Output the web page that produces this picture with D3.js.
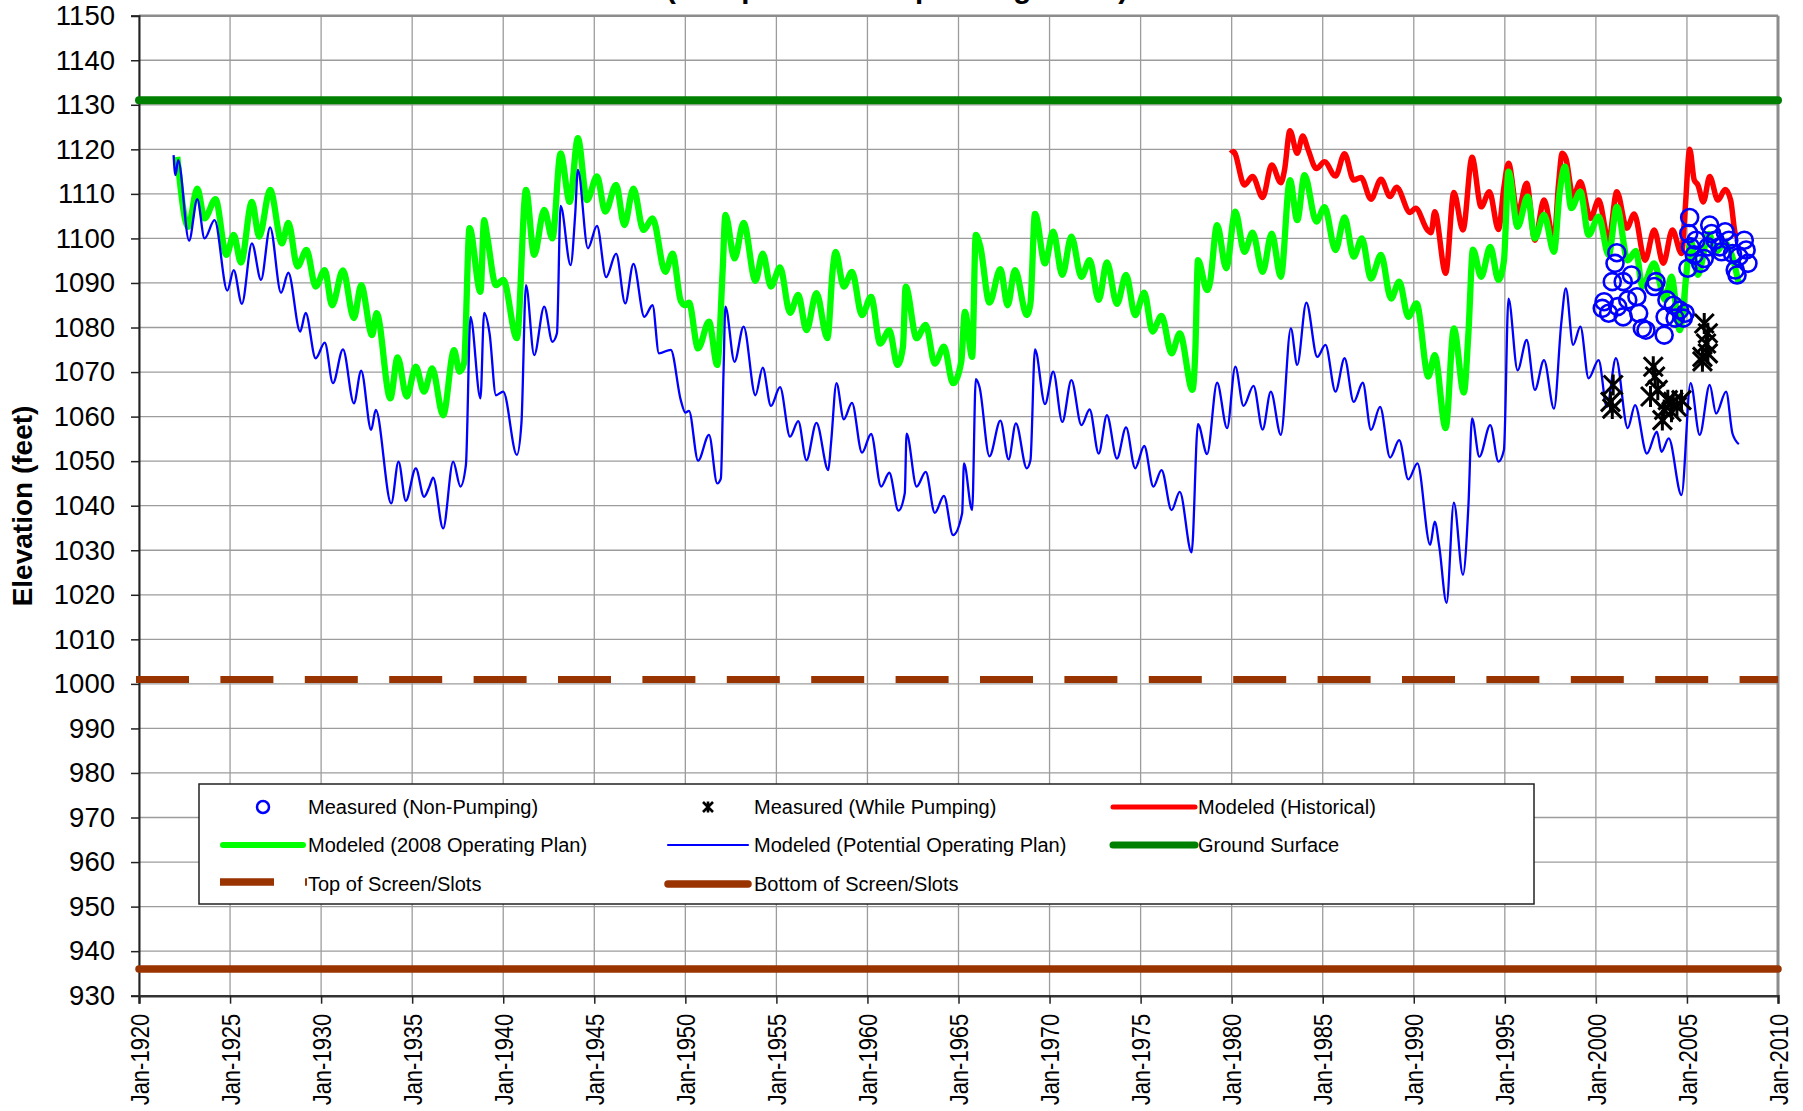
<!DOCTYPE html>
<html>
<head>
<meta charset="utf-8">
<script src="https://cdnjs.cloudflare.com/ajax/libs/d3/7.8.5/d3.min.js"></script>
<style>
  body { margin: 0; background: #fff; }
  text { font-family: "Liberation Sans", Arial, sans-serif; fill: #000; }
</style>
</head>
<body>
<svg id="chart" width="1803" height="1111"></svg>
<script>
// ---- data (decimal year, elevation in feet) ----
const yearTicks = d3.range(1920, 2011, 5);
const elevTicks = d3.range(930, 1151, 10);
const groundSurface = 1131;
const topOfScreen = 1001;
const bottomOfScreen = 936;

const modeledHistorical = [
  [1979.95,1119.1],[1980.1,1119.5],[1980.7,1112.0],[1981.15,1113.9],[1981.7,1109.2],[1982.2,1116.5],
  [1982.7,1112.5],[1982.9,1115.3],[1983.2,1124.2],[1983.6,1119.1],[1983.9,1123.0],[1984.2,1119.9],
  [1984.65,1115.7],[1985.1,1117.2],[1985.7,1114.0],[1986.2,1119.0],[1986.7,1113.1],[1987.1,1113.7],
  [1987.65,1108.8],[1988.2,1113.3],[1988.7,1109.4],[1989.05,1111.5],[1989.8,1105.8],[1990.1,1106.8],
  [1990.75,1101.9],[1990.95,1101.3],[1991.15,1106.0],[1991.75,1092.2],[1992.2,1110.3],[1992.7,1101.9],
  [1993.2,1118.2],[1993.7,1107.1],[1994.15,1110.5],[1994.65,1102.0],[1994.95,1111.5],[1995.2,1116.9],
  [1995.7,1105.6],[1996.2,1112.4],[1996.65,1099.6],[1997.15,1108.6],[1997.7,1099.6],[1997.95,1112.3],
  [1998.15,1119.1],[1998.35,1118.0],[1998.75,1109.4],[1999.15,1112.7],[1999.7,1104.5],[2000.15,1108.6],
  [2000.7,1099.6],[2001.15,1110.5],[2001.7,1102.3],[2002.1,1105.5],[2002.7,1095.1],[2003.2,1101.9],
  [2003.7,1094.4],[2004.2,1101.9],[2004.7,1096.6],[2004.9,1106.4],[2005.15,1120.0],[2005.4,1113.1],
  [2005.6,1112.0],[2005.9,1108.2],[2006.25,1113.9],[2006.7,1108.6],[2007.1,1111.0],[2007.4,1108.6],
  [2007.65,1101.1],[2007.75,1100.4]
];

const modeled2008Plan = [
  [1922.1,1118.3],[1922.7,1102.6],[1923.2,1111.2],[1923.6,1104.5],[1924.2,1108.8],[1924.8,1096.3],
  [1925.2,1100.8],[1925.6,1094.6],[1926.2,1108.2],[1926.6,1100.4],[1927.2,1110.9],[1927.85,1098.9],
  [1928.2,1103.5],[1928.7,1093.7],[1929.2,1097.4],[1929.7,1089.2],[1930.2,1092.9],[1930.6,1085.0],
  [1931.2,1092.8],[1931.8,1082.1],[1932.2,1089.5],[1932.8,1078.3],[1933.05,1083.2],[1933.8,1064.1],
  [1934.2,1073.3],[1934.7,1064.5],[1935.2,1071.2],[1935.65,1065.6],[1936.1,1070.8],[1936.7,1060.3],
  [1937.3,1074.9],[1937.6,1070.1],[1937.85,1072.0],[1938.15,1102.3],[1938.75,1088.0],[1938.95,1104.1],
  [1939.1,1101.0],[1939.6,1089.5],[1940.0,1090.7],[1940.75,1077.6],[1941.25,1110.9],[1941.7,1096.3],
  [1942.25,1106.4],[1942.7,1100.0],[1943.15,1119.1],[1943.65,1108.2],[1944.1,1122.5],[1944.6,1108.6],
  [1945.15,1113.9],[1945.6,1106.0],[1946.2,1112.0],[1946.65,1103.0],[1947.15,1111.2],[1947.7,1101.9],
  [1948.2,1104.5],[1948.9,1092.5],[1949.3,1096.6],[1949.75,1086.0],[1950.0,1085.0],[1950.2,1085.6],
  [1950.7,1075.3],[1951.3,1081.3],[1951.75,1071.6],[1952.05,1092.9],[1952.2,1105.3],[1952.7,1095.5],
  [1953.2,1103.5],[1953.85,1090.5],[1954.25,1096.6],[1954.7,1089.2],[1955.2,1093.5],[1955.75,1083.3],
  [1956.2,1087.3],[1956.65,1079.4],[1957.2,1087.7],[1957.8,1077.6],[1958.1,1093.3],[1958.25,1097.0],
  [1958.7,1089.2],[1959.15,1092.5],[1959.7,1082.8],[1960.2,1086.9],[1960.7,1076.4],[1961.2,1079.4],
  [1961.65,1071.6],[1961.95,1075.7],[1962.1,1089.2],[1962.7,1077.6],[1963.2,1080.6],[1963.7,1071.9],
  [1964.2,1075.7],[1964.7,1067.5],[1965.15,1072.3],[1965.35,1083.5],[1965.75,1073.4],[1965.95,1100.8],
  [1966.2,1098.1],[1966.7,1085.6],[1967.3,1093.1],[1967.7,1085.0],[1968.1,1092.9],[1968.75,1082.8],
  [1968.95,1085.4],[1969.2,1105.5],[1969.75,1094.4],[1970.2,1101.5],[1970.7,1091.8],[1971.2,1100.4],
  [1971.75,1091.4],[1972.2,1095.1],[1972.7,1086.2],[1973.15,1094.6],[1973.7,1085.3],[1974.2,1091.8],
  [1974.7,1082.8],[1975.2,1087.8],[1975.65,1079.1],[1976.15,1082.6],[1976.7,1074.2],[1977.15,1078.7],
  [1977.85,1066.0],[1978.0,1074.2],[1978.15,1095.1],[1978.65,1088.4],[1978.8,1089.9],[1979.2,1103.0],
  [1979.7,1093.3],[1980.2,1106.0],[1980.7,1097.0],[1981.15,1101.3],[1981.7,1092.5],[1982.2,1101.1],
  [1982.7,1091.4],[1983.2,1113.1],[1983.6,1104.1],[1984.0,1114.2],[1984.65,1103.8],[1985.1,1107.0],
  [1985.7,1097.4],[1986.2,1104.7],[1986.7,1095.9],[1987.15,1100.0],[1987.65,1091.0],[1988.2,1096.3],
  [1988.75,1086.5],[1989.2,1090.3],[1989.7,1082.4],[1990.15,1085.4],[1990.8,1069.0],[1991.15,1073.8],
  [1991.75,1057.4],[1992.2,1079.8],[1992.75,1065.4],[1993.0,1078.7],[1993.25,1097.5],[1993.7,1091.4],
  [1994.2,1098.1],[1994.65,1090.7],[1994.95,1095.0],[1995.2,1115.0],[1995.7,1102.6],[1996.25,1109.4],
  [1996.65,1100.0],[1997.15,1105.3],[1997.7,1097.0],[1998.0,1110.0],[1998.3,1116.1],[1998.65,1106.8],
  [1999.15,1110.5],[1999.6,1100.8],[2000.15,1104.9],[2000.7,1096.3],[2001.15,1107.1],[2001.75,1095.1],
  [2002.2,1097.2],[2002.55,1089.2],[2003.2,1094.4],[2003.8,1086.2],[2004.15,1091.4],[2004.6,1079.4],
  [2005.05,1095.1],[2005.2,1099.6],[2005.6,1091.8],[2006.2,1101.0],[2006.6,1097.0],[2007.1,1099.0],
  [2007.85,1089.9]
];

const modeledPotentialPlan = [
  [1921.9,1118.7],[1922.0,1114.2],[1922.15,1117.6],[1922.75,1099.5],[1923.2,1108.8],[1923.6,1100.0],
  [1924.15,1104.1],[1924.85,1088.3],[1925.2,1092.9],[1925.65,1085.3],[1926.2,1098.9],[1926.7,1090.7],
  [1927.2,1102.5],[1927.8,1087.8],[1928.2,1092.3],[1928.85,1079.1],[1929.15,1083.3],[1929.7,1073.1],
  [1930.2,1076.6],[1930.65,1067.5],[1931.2,1075.1],[1931.8,1063.0],[1932.2,1070.3],[1932.75,1057.0],
  [1933.0,1061.5],[1933.85,1040.5],[1934.25,1049.9],[1934.65,1041.1],[1935.2,1048.4],[1935.65,1042.0],
  [1935.95,1044.3],[1936.15,1046.3],[1936.7,1034.9],[1937.25,1049.9],[1937.65,1044.3],[1937.95,1049.1],
  [1938.2,1082.4],[1938.75,1064.1],[1938.95,1083.3],[1939.25,1078.7],[1939.6,1064.8],[1940.0,1065.6],
  [1940.75,1051.4],[1941.0,1058.5],[1941.25,1089.5],[1941.7,1073.8],[1942.25,1084.7],[1942.7,1076.8],
  [1942.95,1078.7],[1943.15,1107.3],[1943.7,1094.0],[1943.95,1105.3],[1944.1,1115.4],[1944.65,1097.8],
  [1945.15,1102.8],[1945.65,1091.3],[1946.2,1096.6],[1946.7,1085.4],[1947.15,1094.3],[1947.75,1082.4],
  [1948.2,1085.0],[1948.55,1074.2],[1949.2,1075.0],[1949.75,1063.7],[1950.0,1060.9],[1950.2,1061.3],
  [1950.7,1050.1],[1951.3,1055.9],[1951.75,1045.0],[1951.95,1046.1],[1952.1,1070.4],[1952.2,1084.7],
  [1952.7,1072.3],[1953.2,1080.2],[1953.85,1064.8],[1954.25,1071.0],[1954.7,1062.4],[1955.2,1066.6],
  [1955.75,1055.5],[1956.2,1059.0],[1956.65,1050.2],[1957.2,1058.6],[1957.85,1048.0],[1958.0,1054.0],
  [1958.3,1067.5],[1958.7,1059.4],[1959.15,1063.1],[1959.7,1051.9],[1960.2,1056.1],[1960.75,1044.3],
  [1961.2,1047.4],[1961.7,1038.9],[1962.05,1042.8],[1962.15,1056.2],[1962.7,1044.3],[1963.2,1047.6],
  [1963.7,1038.4],[1964.2,1042.2],[1964.7,1033.4],[1965.2,1038.3],[1965.3,1049.5],[1965.75,1039.0],
  [1965.95,1068.4],[1966.15,1066.7],[1966.7,1051.1],[1967.3,1059.1],[1967.75,1050.4],[1968.15,1058.5],
  [1968.75,1048.4],[1968.95,1050.2],[1969.2,1075.1],[1969.75,1062.8],[1970.2,1070.1],[1970.7,1058.8],
  [1971.2,1068.2],[1971.75,1058.1],[1972.2,1061.6],[1972.7,1051.7],[1973.15,1060.3],[1973.7,1050.6],
  [1974.2,1057.6],[1974.7,1048.4],[1975.2,1053.4],[1975.7,1044.3],[1976.15,1048.0],[1976.7,1039.0],
  [1977.15,1043.1],[1977.8,1029.5],[1978.15,1058.3],[1978.65,1051.6],[1979.2,1067.6],[1979.75,1057.4],
  [1980.2,1071.2],[1980.65,1062.4],[1981.2,1066.9],[1981.7,1057.1],[1982.15,1065.6],[1982.7,1055.9],
  [1983.25,1079.8],[1983.6,1071.6],[1984.1,1085.6],[1984.7,1073.4],[1985.15,1076.1],[1985.7,1065.6],
  [1986.2,1073.1],[1986.7,1063.3],[1987.2,1067.6],[1987.65,1057.0],[1988.15,1062.2],[1988.7,1050.8],
  [1989.2,1054.7],[1989.7,1045.9],[1990.2,1049.5],[1990.9,1031.2],[1991.15,1036.4],[1991.4,1030.8],
  [1991.8,1018.2],[1992.2,1040.7],[1992.7,1024.5],[1993.0,1040.0],[1993.2,1059.6],[1993.6,1051.0],
  [1994.2,1058.1],[1994.65,1049.9],[1994.95,1052.5],[1995.2,1086.5],[1995.7,1070.4],[1996.2,1077.2],
  [1996.65,1066.0],[1997.15,1072.7],[1997.7,1061.8],[1998.1,1081.0],[1998.35,1088.8],[1998.75,1076.1],
  [1999.15,1080.2],[1999.6,1068.6],[2000.15,1072.7],[2000.6,1062.2],[2001.1,1073.1],[2001.75,1057.4],
  [2002.15,1062.6],[2002.8,1051.7],[2003.35,1056.6],[2003.6,1052.1],[2004.0,1055.1],[2004.7,1042.4],
  [2005.2,1067.5],[2005.7,1055.9],[2006.25,1067.1],[2006.6,1060.7],[2007.15,1065.6],[2007.5,1056.2],
  [2007.85,1053.8]
];

const measuredNonPumping = [
  [2001.15,1096.8],[2001.05,1094.4],[2000.9,1090.3],[2001.95,1091.8],[2001.5,1090.3],[2000.45,1085.8],
  [2000.7,1083.2],[2001.2,1084.7],[2001.75,1086.2],[2002.25,1086.9],[2003.3,1090.3],[2003.2,1089.2],
  [2002.35,1083.2],[2002.55,1079.8],[2002.75,1079.4],[2003.75,1078.3],[2004.25,1085.0],[2004.6,1083.9],
  [2004.9,1083.2],[2004.35,1082.1],[2001.5,1082.4],[2000.35,1084.3],[2003.8,1082.4],[2004.8,1082.1],
  [2003.9,1086.2],
  [2005.15,1104.7],[2005.1,1101.1],[2005.05,1093.3],[2005.2,1098.1],[2005.4,1096.3],[2005.75,1094.4],
  [2005.95,1095.5],[2006.25,1103.0],[2006.35,1101.1],[2006.55,1099.6],[2006.8,1098.1],[2007.1,1101.5],
  [2007.3,1099.6],[2007.5,1096.6],[2007.65,1092.9],[2007.85,1095.9],[2008.15,1099.6],[2008.25,1097.4],
  [2008.35,1094.4],[2007.75,1091.8],[2006.9,1097.0],[2005.5,1099.6],[2006.15,1098.1]
];

const measuredPumping = [
  [2000.95,1067.1],[2000.8,1063.3],[2000.9,1061.8],[2003.15,1071.2],[2003.25,1069.0],[2003.0,1064.5],
  [2003.4,1066.0],[2003.65,1059.2],[2003.95,1063.7],[2004.25,1063.3],[2004.45,1062.2],[2004.15,1061.1],
  [2004.7,1063.7],[2003.75,1061.5],[2005.95,1080.9],[2006.15,1078.7],[2006.05,1076.4],[2005.85,1073.4],
  [2006.15,1074.2],[2005.85,1072.4]
];

// ---- layout ----
const W = 1803, H = 1111;
const pLeft = 139, pRight = 1778, pTop = 15.7, pBottom = 995.7;

const svg = d3.select("#chart");
svg.append("rect").attr("width", W).attr("height", H).attr("fill", "#fff");

const x = d3.scaleLinear().domain([1920, 2010]).range([pLeft, pRight]);
const y = d3.scaleLinear().domain([930, 1150]).range([pBottom, pTop]);

// title (cut by the top edge, as in the original)
svg.append("text")
  .attr("x", 897).attr("y", -2.5)
  .attr("text-anchor", "middle")
  .style("font-size", "29.5px").style("font-weight", "bold")
  .text("(Comparison of Operating Plans)");

// gridlines
const grid = svg.append("g").attr("stroke", "#9c9c9c").attr("stroke-width", 1.3);
grid.selectAll("line.h").data(elevTicks).enter().append("line")
  .attr("x1", pLeft).attr("x2", pRight)
  .attr("y1", d => y(d)).attr("y2", d => y(d));
grid.selectAll("line.v").data(yearTicks).enter().append("line")
  .attr("y1", pTop).attr("y2", pBottom)
  .attr("x1", d => x(d)).attr("x2", d => x(d));

// plot border (top/right grey)
svg.append("line").attr("x1", pLeft).attr("x2", pRight).attr("y1", pTop).attr("y2", pTop)
  .attr("stroke", "#8c8c8c").attr("stroke-width", 2.5);
svg.append("line").attr("x1", pRight).attr("x2", pRight).attr("y1", pTop).attr("y2", pBottom)
  .attr("stroke", "#8c8c8c").attr("stroke-width", 3);

// y axis
const yAxis = svg.append("g").attr("transform", `translate(${pLeft},0)`)
  .call(d3.axisLeft(y).tickValues(elevTicks).tickSize(8).tickPadding(16).tickFormat(d3.format("d")));
yAxis.select(".domain").attr("stroke", "#222").attr("stroke-width", 2);
yAxis.selectAll(".tick line").attr("stroke", "#222").attr("stroke-width", 1.5);
yAxis.selectAll(".tick text").style("font-size", "27.5px").style("font-family", "Liberation Sans, Arial, sans-serif");

// x axis
const xAxis = svg.append("g").attr("transform", `translate(0,${pBottom})`)
  .call(d3.axisBottom(x).tickValues(yearTicks).tickSize(8).tickFormat(d => "Jan-" + d));
xAxis.select(".domain").attr("stroke", "#333").attr("stroke-width", 2.5);
xAxis.selectAll(".tick line").attr("stroke", "#222").attr("stroke-width", 1.5);
xAxis.selectAll(".tick text")
  .style("font-size", "22px").style("font-family", "Liberation Sans, Arial, sans-serif")
  .attr("text-anchor", "end")
  .attr("transform", "rotate(-90) scale(1,1.15)")
  .attr("x", -18).attr("y", 0).attr("dy", "0.36em");

// y axis title
svg.append("text")
  .attr("transform", "translate(32,506) rotate(-90)")
  .attr("text-anchor", "middle")
  .style("font-size", "28px").style("font-weight", "bold")
  .text("Elevation (feet)");

// reference levels
const refLine = (v, color, w, dash) => {
  const l = svg.append("line")
    .attr("y1", y(v)).attr("y2", y(v))
    .attr("stroke", color).attr("stroke-width", w);
  if (dash) l.attr("x1", x(1920) - 3).attr("x2", x(2010)).attr("stroke-dasharray", dash);
  else l.attr("x1", x(1920)).attr("x2", x(2010)).attr("stroke-linecap", "round");
};
refLine(groundSurface, "#008000", 8);
refLine(topOfScreen, "#993300", 7, "53,31.4");
refLine(bottomOfScreen, "#993300", 7.5);

// modeled series
const line = d3.line().x(d => x(d[0])).y(d => y(d[1])).curve(d3.curveMonotoneX);
svg.append("path").datum(modeledHistorical).attr("d", line)
  .attr("fill", "none").attr("stroke", "#ff0000").attr("stroke-width", 5.5).attr("stroke-linejoin", "round");
svg.append("path").datum(modeled2008Plan).attr("d", line)
  .attr("fill", "none").attr("stroke", "#00ff00").attr("stroke-width", 6.3).attr("stroke-linejoin", "round");
svg.append("path").datum(modeledPotentialPlan).attr("d", line)
  .attr("fill", "none").attr("stroke", "#0000ff").attr("stroke-width", 2.3).attr("stroke-linejoin", "round");

// measured points
svg.append("g").selectAll("circle").data(measuredNonPumping).enter().append("circle")
  .attr("cx", d => x(d[0])).attr("cy", d => y(d[1])).attr("r", 8.5)
  .attr("fill", "none").attr("stroke", "#0000ff").attr("stroke-width", 2.6);

const star = s => `M${-s},${-s}L${s},${s}M${-s},${s}L${s},${-s}M0,${-s * 1.1}L0,${s * 1.1}`;
svg.append("g").selectAll("path").data(measuredPumping).enter().append("path")
  .attr("transform", d => `translate(${x(d[0])},${y(d[1])})`)
  .attr("d", star(9.5)).attr("fill", "none").attr("stroke", "#000").attr("stroke-width", 3);

// legend
const lg = svg.append("g");
lg.append("rect").attr("x", 199).attr("y", 784).attr("width", 1335).attr("height", 120)
  .attr("fill", "#fff").attr("stroke", "#222").attr("stroke-width", 1.5);

const legendItems = [
  {label: "Measured (Non-Pumping)", kind: "circle", col: 0, row: 0},
  {label: "Measured (While Pumping)", kind: "star", col: 1, row: 0},
  {label: "Modeled (Historical)", kind: "line", color: "#ff0000", w: 5, col: 2, row: 0},
  {label: "Modeled (2008 Operating Plan)", kind: "line", color: "#00ff00", w: 6, col: 0, row: 1},
  {label: "Modeled (Potential Operating Plan)", kind: "line", color: "#0000ff", w: 2.2, col: 1, row: 1},
  {label: "Ground Surface", kind: "line", color: "#008000", w: 7, col: 2, row: 1},
  {label: "Top of Screen/Slots", kind: "dash", color: "#993300", w: 7.5, col: 0, row: 2},
  {label: "Bottom of Screen/Slots", kind: "line", color: "#993300", w: 7.5, col: 1, row: 2}
];
const colX = [[223, 303, 308], [668, 748, 754], [1113, 1195, 1198]];
const rowY = [807, 845, 884];

legendItems.forEach(it => {
  const [x0, x1, tx] = colX[it.col];
  const cy = rowY[it.row];
  const cx = (x0 + x1) / 2;
  if (it.kind === "circle") {
    lg.append("circle").attr("cx", cx).attr("cy", cy).attr("r", 6)
      .attr("fill", "none").attr("stroke", "#0000ff").attr("stroke-width", 2.5);
  } else if (it.kind === "star") {
    lg.append("path").attr("transform", `translate(${cx},${cy})`).attr("d", star(5))
      .attr("fill", "none").attr("stroke", "#000").attr("stroke-width", 2.6);
  } else if (it.kind === "dash") {
    lg.append("line").attr("x1", 220).attr("x2", 274).attr("y1", cy - 2).attr("y2", cy - 2)
      .attr("stroke", it.color).attr("stroke-width", it.w);
    lg.append("line").attr("x1", 305).attr("x2", 307).attr("y1", cy - 2).attr("y2", cy - 2)
      .attr("stroke", it.color).attr("stroke-width", it.w);
  } else {
    lg.append("line").attr("x1", x0).attr("x2", x1).attr("y1", cy).attr("y2", cy)
      .attr("stroke", it.color).attr("stroke-width", it.w).attr("stroke-linecap", "round");
  }
  lg.append("text").attr("x", tx).attr("y", cy).attr("dy", "0.36em")
    .style("font-size", "20px").text(it.label);
});
</script>
</body>
</html>
